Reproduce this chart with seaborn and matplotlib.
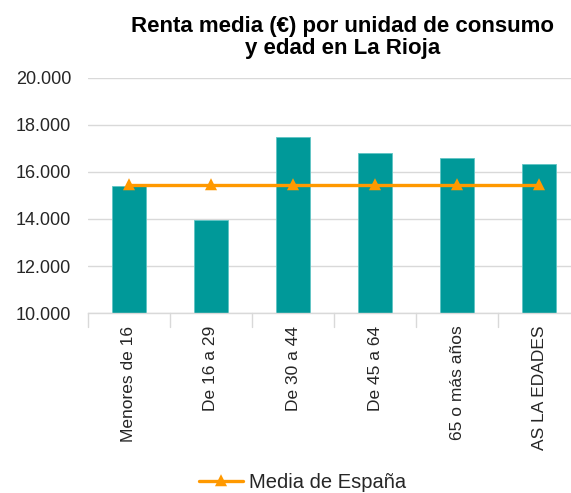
import pandas as pd
import matplotlib.pyplot as plt
import seaborn as sns
from matplotlib.ticker import FuncFormatter

# values
categorias = ['Menores de 16', 'De 16 a 29', 'De 30 a 44', 'De 45 a 64',
              '65 o más años', 'AS LA EDADES']
renta_rioja = [15390, 13960, 17500, 16810, 16580, 16330]
media_espana = [15430, 15430, 15430, 15430, 15430, 15430]

df = pd.DataFrame({'edad': categorias, 'renta': renta_rioja, 'espana': media_espana})

sns.set_theme(style="white")
plt.rcParams['font.family'] = ['Liberation Sans', 'DejaVu Sans']

fig = plt.figure(figsize=(5.71, 4.93), dpi=100)
ax = fig.add_axes([0.154, 0.365, 0.862, 0.477])

sns.barplot(data=df, x='edad', y='renta', color='#009999', width=0.41,
            edgecolor='#5fc4c4', linewidth=0.6, saturation=1, ax=ax, zorder=2)
sns.pointplot(data=df, x='edad', y='espana', color='#ff9900', markers='^',
              linestyles='-', errorbar=None, ax=ax, label='Media de España',
              markersize=6, linewidth=2.4, zorder=3)

ax.set_ylim(10000, 20000)
ax.set_yticks(range(10000, 20001, 2000))
ax.yaxis.set_major_formatter(FuncFormatter(lambda v, p: f'{int(v):,}'.replace(',', '.')))
ax.yaxis.grid(True, color='#d9d9d9', linewidth=1, zorder=0)
ax.set_axisbelow(True)
ax.set_xlim(-0.5, 5.5)

for s in ['top', 'right', 'left']:
    ax.spines[s].set_visible(False)
ax.spines['bottom'].set_color('#d9d9d9')
ax.spines['bottom'].set_linewidth(1)

# tick marks sit between the categories
ax.set_xticks(range(6))
ax.set_xticklabels(categorias, rotation=90, fontsize=12.5, color='#262626')
ax.tick_params(axis='x', length=0, pad=9)
for b in [k - 0.5 for k in range(7)]:
    ax.plot([b, b], [9400, 10000], color='#d9d9d9', lw=1, clip_on=False, zorder=1)
ax.tick_params(axis='y', labelsize=13, colors='#262626', length=0, pad=12)

ax.set_xlabel('')
ax.set_ylabel('')

fig.text(0.60, 0.968, 'Renta media (€) por unidad de consumo\ny edad en La Rioja',
         ha='center', va='top', fontsize=16, fontweight='bold', color='#000000',
         linespacing=1.1)

ax.legend(loc='lower center', frameon=False, fontsize=14.5, handlelength=2.2,
          handletextpad=0.3)
leg = ax.get_legend()
leg.set_bbox_to_anchor((0.53, -0.035), transform=fig.transFigure)

fig.savefig('out.png', dpi=100)
